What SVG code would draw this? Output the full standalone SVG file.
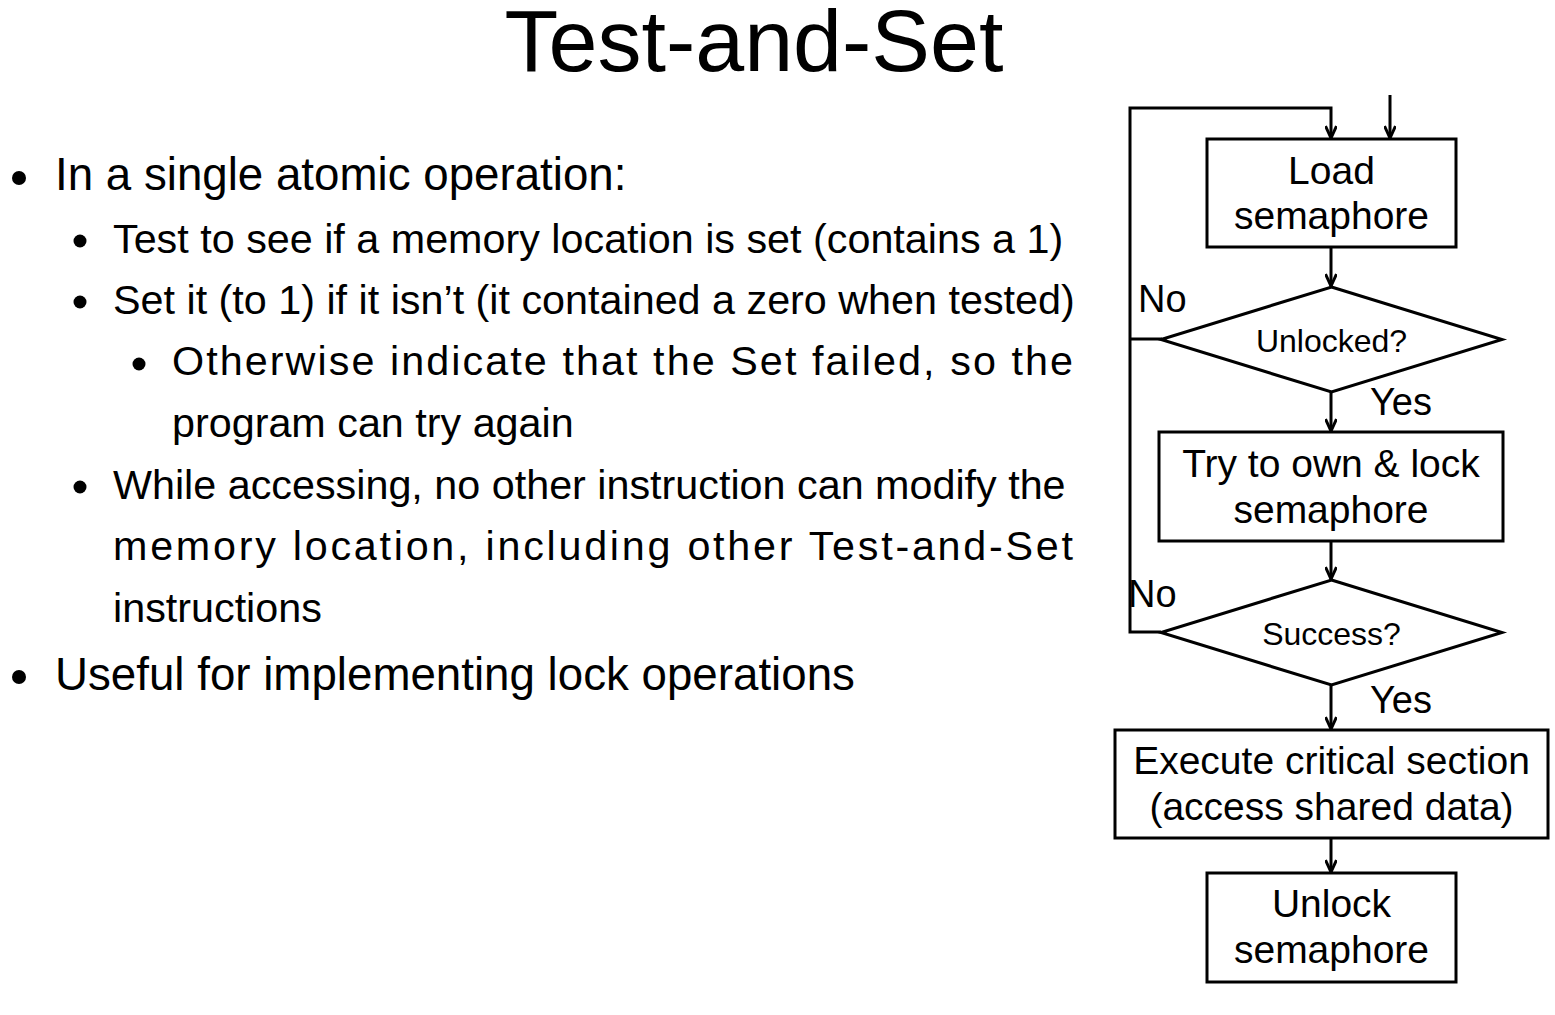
<svg xmlns="http://www.w3.org/2000/svg" width="1555" height="1015" viewBox="0 0 1555 1015">
<style>
text{font-family:"Liberation Sans",Arial,Helvetica,sans-serif;fill:#000}
.title{font-size:88px}
.l1{font-size:45.7px}
.l2{font-size:41.3px}
.bx{fill:#fff;stroke:#000;stroke-width:3}
.bt{font-size:39px;text-anchor:middle}
.dt{font-size:32px;text-anchor:middle}
.lb{font-size:38px}
.cn{fill:none;stroke:#000;stroke-width:3}
</style>
<defs>
<marker id="ah" viewBox="0 0 14 12" refX="13" refY="6" markerWidth="14" markerHeight="12" markerUnits="userSpaceOnUse" orient="auto">
<path d="M1,0.5 L13,6 L1,11.5" fill="none" stroke="#000" stroke-width="3"/>
</marker>
</defs>
<rect width="1555" height="1015" fill="#fff"/>
<text class="title" x="754" y="71" text-anchor="middle">Test-and-Set</text>
<g id="bullets">
<circle cx="19" cy="178" r="7"/>
<text class="l1" x="55" y="190">In a single atomic operation:</text>
<circle cx="80" cy="241" r="6.5"/>
<text class="l2" x="113" y="253">Test to see if a memory location is set (contains a 1)</text>
<circle cx="80" cy="302" r="6.5"/>
<text class="l2" x="113" y="314">Set it (to 1) if it isn’t (it contained a zero when tested)</text>
<circle cx="139" cy="364" r="6.5"/>
<text class="l2" x="172" y="375" textLength="901">Otherwise indicate that the Set failed, so the</text>
<text class="l2" x="172" y="437">program can try again</text>
<circle cx="80" cy="487" r="6.5"/>
<text class="l2" x="113" y="499">While accessing, no other instruction can modify the</text>
<text class="l2" x="113" y="560" textLength="960">memory location, including other Test-and-Set</text>
<text class="l2" x="113" y="622">instructions</text>
<circle cx="19" cy="677" r="7"/>
<text class="l1" x="55" y="690">Useful for implementing lock operations</text>
</g>
<g id="connectors">
<path class="cn" d="M1390,95 V138" marker-end="url(#ah)"/>
<path class="cn" d="M1161,632 H1130 V108 H1331 V138" marker-end="url(#ah)"/>
<path class="cn" d="M1162,339 H1130"/>
<path class="cn" d="M1331,247 V286" marker-end="url(#ah)"/>
<path class="cn" d="M1331,392 V431" marker-end="url(#ah)"/>
<path class="cn" d="M1331,541 V579" marker-end="url(#ah)"/>
<path class="cn" d="M1331,685 V729" marker-end="url(#ah)"/>
<path class="cn" d="M1331,838 V872" marker-end="url(#ah)"/>
<text class="lb" x="1138" y="312">No</text>
<text class="lb" x="1370" y="415">Yes</text>
<text class="lb" x="1128" y="607">No</text>
<text class="lb" x="1370" y="713">Yes</text>
</g>
<g id="load">
<rect class="bx" x="1207" y="139" width="249" height="108"/>
<text class="bt" x="1331.5" y="184">Load</text>
<text class="bt" x="1331.5" y="229">semaphore</text>
</g>
<g id="unlocked">
<polygon class="bx" points="1331.5,287 1502,339.5 1331.5,392 1161,339.5"/>
<text class="dt" x="1331.5" y="352">Unlocked?</text>
</g>
<g id="try">
<rect class="bx" x="1159" y="432" width="344" height="109"/>
<text class="bt" x="1331" y="477">Try to own &amp; lock</text>
<text class="bt" x="1331" y="523">semaphore</text>
</g>
<g id="success">
<polygon class="bx" points="1331.5,580 1502,632.5 1331.5,685 1161,632.5"/>
<text class="dt" x="1331.5" y="645">Success?</text>
</g>
<g id="execute">
<rect class="bx" x="1115" y="730" width="433" height="108"/>
<text class="bt" x="1331.5" y="774">Execute critical section</text>
<text class="bt" x="1331.5" y="820">(access shared data)</text>
</g>
<g id="unlock">
<rect class="bx" x="1207" y="873" width="249" height="109"/>
<text class="bt" x="1331.5" y="917">Unlock</text>
<text class="bt" x="1331.5" y="963">semaphore</text>
</g>
</svg>
